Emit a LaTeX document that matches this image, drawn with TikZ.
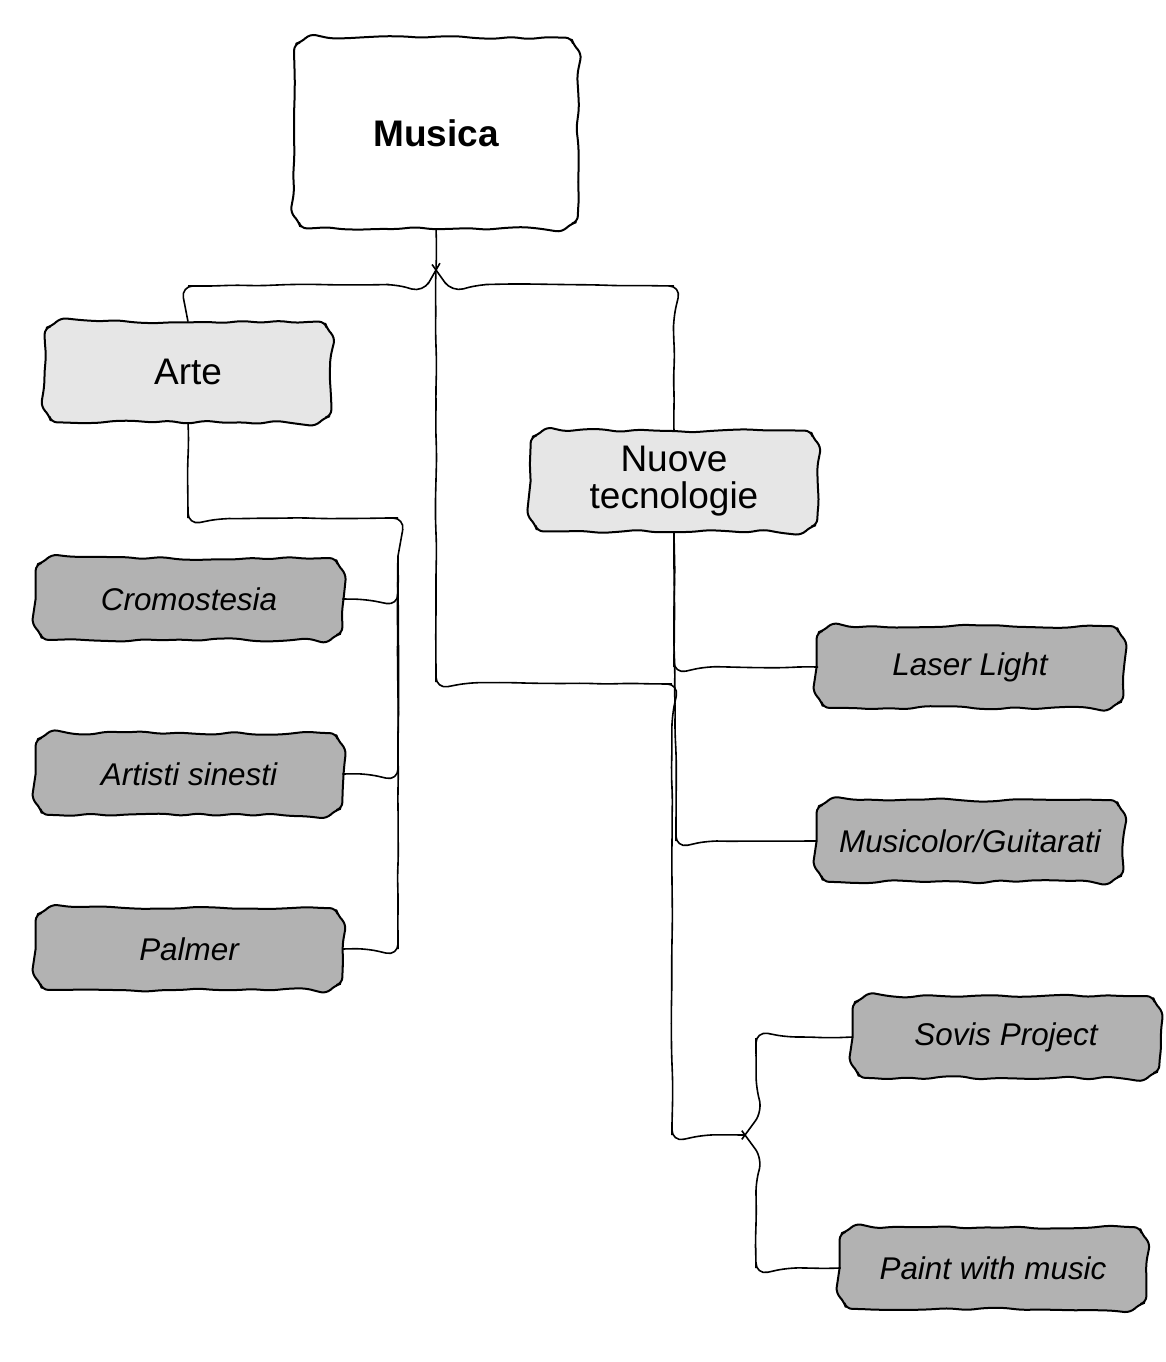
\documentclass[tikz,border=0pt]{standalone}
\usepackage{fontspec}
\setmainfont{Liberation Sans}
\usetikzlibrary{decorations.pathmorphing,backgrounds}
\definecolor{midgray}{HTML}{E6E6E6}
\definecolor{leafgray}{HTML}{B2B2B2}
\newcommand\roughbox[2]{%
  \path[boxline, fill=#2] (#1.west) -- ([yshift=-6pt]#1.north west) -- ([xshift=6pt]#1.north west)
    -- ([xshift=-6pt]#1.north east) -- ([yshift=-6pt]#1.north east)
    -- ([yshift=6pt]#1.south east) -- ([xshift=-6pt]#1.south east)
    -- ([xshift=6pt]#1.south west) -- ([yshift=6pt]#1.south west) -- (#1.west);}
\begin{document}
\begin{tikzpicture}[x=0.5pt,y=-0.5pt,
  boxline/.style={draw, line width=1pt, line cap=round, line join=round, rounded corners=3pt,
    decorate, decoration={random steps, segment length=9pt, amplitude=0.9pt}},
  box/.style={inner sep=0pt, align=center, text=black},
  topbox/.style={box, minimum width=141.5pt, minimum height=95pt, font=\fontsize{18.5}{18.5}\selectfont\bfseries},
  midbox/.style={box, minimum width=143pt, minimum height=50pt, font=\fontsize{18.5}{18.5}\selectfont},
  leafbox/.style={box, minimum width=153pt, minimum height=40.5pt, font=\fontsize{15.7}{15.7}\selectfont\itshape},
  wire/.style={draw, line width=0.8pt, rounded corners=6pt, decorate, decoration={random steps, segment length=10pt, amplitude=0.4pt}}]
\pgfmathsetseed{11}
\useasboundingbox (0,0) rectangle (1166,1362);

\node[topbox] (musica) at (436,133) {Musica};
\node[midbox] (arte) at (188,372) {Arte};
\node[midbox] (nuove) at (674,481) {Nuove\\tecnologie};
\node[leafbox] (crom) at (189,599) {Cromostesia};
\node[leafbox] (artisti) at (189,774) {Artisti sinesti};
\node[leafbox] (palmer) at (189,949) {Palmer};
\node[leafbox] (laser) at (970,667) {Laser Light};
\node[leafbox] (musicolor) at (970,841) {Musicolor/Guitarati};
\node[leafbox] (sovis) at (1006,1037) {Sovis Project};
\node[leafbox] (paint) at (993,1268) {Paint with music};

\begin{scope}[on background layer]
\roughbox{musica}{white}
\roughbox{arte}{midgray}
\roughbox{nuove}{midgray}
\roughbox{crom}{leafgray}
\roughbox{artisti}{leafgray}
\roughbox{palmer}{leafgray}
\roughbox{laser}{leafgray}
\roughbox{musicolor}{leafgray}
\roughbox{sovis}{leafgray}
\roughbox{paint}{leafgray}
\end{scope}

\coordinate (J0) at (436,270);
\coordinate (Ja) at (398,556);
\coordinate (J3) at (745,1135);

\draw[wire] (musica.south) -- (J0);
\draw[wire] (J0) -- (428,284) -- (188,286) -- (arte.north);
\draw[wire] (J0) -- (446,284) -- (674,286) -- (nuove.north);
\draw[wire] (J0) -- (436,682) -- (672,684) -- (672,1135) -- (J3);
\draw[wire] (J3) -- (756,1120) -- (756,1038) -- (sovis.west);
\draw[wire] (J3) -- (756,1150) -- (756,1268) -- (paint.west);

\draw[wire] (arte.south) -- (188,518) -- (398,518) -- (Ja);
\draw[wire] (Ja) -- (398,599) -- (crom.east);
\draw[wire] (Ja) -- (398,774) -- (artisti.east);
\draw[wire] (Ja) -- (398,949) -- (palmer.east);

\draw[wire] (nuove.south) -- (674,667) -- (laser.west);
\draw[wire] (nuove.south) -- (676,841) -- (musicolor.west);
\end{tikzpicture}
\end{document}
